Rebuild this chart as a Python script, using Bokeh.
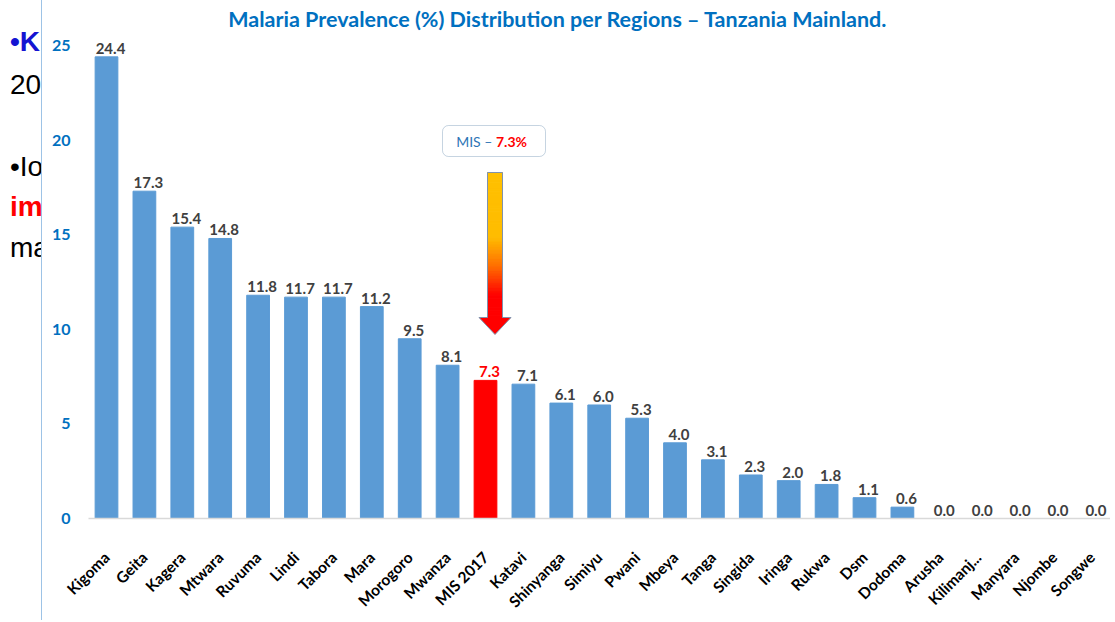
import math
from bokeh.plotting import figure
from bokeh.models import Range1d, FixedTicker, ColumnDataSource, Label, BoxAnnotation, Div
from bokeh.layouts import row
from bokeh.core.properties import value
from bokeh.embed import file_html
from bokeh.resources import INLINE

# ---------------- data ----------------
regions = ["Kigoma", "Geita", "Kagera", "Mtwara", "Ruvuma", "Lindi", "Tabora", "Mara",
           "Morogoro", "Mwanza", "MIS 2017", "Katavi", "Shinyanga", "Simiyu", "Pwani",
           "Mbeya", "Tanga", "Singida", "Iringa", "Rukwa", "Dsm", "Dodoma", "Arusha",
           "Kilimanj...", "Manyara", "Njombe", "Songwe"]
prevalence = [24.4, 17.3, 15.4, 14.8, 11.8, 11.7, 11.7, 11.2, 9.5, 8.1, 7.3, 7.1, 6.1,
              6.0, 5.3, 4.0, 3.1, 2.3, 2.0, 1.8, 1.1, 0.6, 0.0, 0.0, 0.0, 0.0, 0.0]
highlight = "MIS 2017"
y_ticks = [0, 5, 10, 15, 20, 25]
title_text = "Malaria Prevalence (%) Distribution per Regions \u2013 Tanzania  Mainland."
callout_left = "MIS \u2013 "
callout_right = "7.3%"
slide_lines = ["\u2022K", "20", "\u2022Io", "im", "ma"]

# ---------------- layout constants ----------------
PX_X = 37.9      # pixels per category
PX_Y = 18.92     # pixels per unit
FRAME_W = 1022
FRAME_H = 518
X0 = -0.475

BLUE = "#5b9bd5"
RED = "#ff0000"
FONT = "Lato"

n = len(regions)
idx = list(range(n))
colors = [RED if r == highlight else BLUE for r in regions]
lab_colors = [RED if r == highlight else "#404040" for r in regions]
src = ColumnDataSource(dict(x=idx, y=prevalence, c=colors, lc=lab_colors,
                            t=["%.1f" % v for v in prevalence]))

p = figure(width=1068, height=620,
           x_range=Range1d(X0, X0 + FRAME_W / PX_X),
           y_range=Range1d(0, FRAME_H / PX_Y),
           output_backend="svg", toolbar_location=None,
           min_border_left=46, min_border_right=0, min_border_top=0, min_border_bottom=102)
p.title = None
p.outline_line_color = None
p.grid.visible = False
p.background_fill_color = "white"

p.vbar(x="x", top="y", width=0.6, color="c", source=src)
p.text(x="x", y="y", text="t", source=src, text_color="lc",
       text_font=value(FONT), text_font_style="bold", text_font_size="15px",
       text_align="center", text_baseline="bottom", x_offset=4, y_offset=-3)

# axes
p.xaxis.ticker = FixedTicker(ticks=idx)
p.xaxis.major_label_overrides = {i: r for i, r in enumerate(regions)}
p.xaxis.major_label_orientation = math.pi / 4
p.xaxis.major_tick_line_color = None
p.xaxis.minor_tick_line_color = None
p.xaxis.axis_line_color = "#d9d9d9"
p.xaxis.axis_line_width = 1.5
p.xaxis.major_label_text_font = FONT
p.xaxis.major_label_text_font_style = "bold"
p.xaxis.major_label_text_font_size = "15.5px"
p.xaxis.major_label_text_color = "black"
p.xaxis.major_label_standoff = 30

p.yaxis.ticker = FixedTicker(ticks=y_ticks)
p.yaxis.axis_line_color = None
p.yaxis.major_tick_line_color = None
p.yaxis.minor_tick_line_color = None
p.yaxis.major_label_text_font = FONT
p.yaxis.major_label_text_font_style = "bold"
p.yaxis.major_label_text_font_size = "16px"
p.yaxis.major_label_text_color = "#0070c0"
p.yaxis.major_label_standoff = 12

def dx(px):
    return px / PX_X

def dy(py):
    return py / PX_Y

top_y = FRAME_H / PX_Y

# title
p.add_layout(Label(x=X0 + dx(560 - 88), y=top_y - dy(18), text=title_text,
                   text_font=FONT, text_font_style="bold", text_font_size="21.5px",
                   text_color="#0070c0", text_align="center", text_baseline="middle"))

# callout box
mi = regions.index(highlight)
cx = mi + dx(8.5)
p.add_layout(BoxAnnotation(left=cx - dx(51.5), right=cx + dx(51.5),
                           top=top_y - dy(125), bottom=top_y - dy(156),
                           fill_color="white", fill_alpha=1.0, line_color="#41719c",
                           line_width=1, border_radius=6))
split = mi + dx(10.5)
ly = top_y - dy(140.5)
p.add_layout(Label(x=split, y=ly, text=callout_left, text_font=FONT,
                   text_font_size="14px", text_color="#2e75b6",
                   text_align="right", text_baseline="middle"))
p.add_layout(Label(x=split, y=ly, text=callout_right, text_font=FONT,
                   text_font_style="bold", text_font_size="14px", text_color=RED,
                   text_align="left", text_baseline="middle"))

# gradient arrow
ax = mi + dx(9.5)
shaft_hw = dx(7.5)
head_hw = dx(16)
s_top, s_bot, tip = top_y - dy(172), top_y - dy(317), top_y - dy(334)

def grad(t):
    stops = [(0.0, (255, 192, 0)), (0.45, (255, 188, 0)), (0.65, (255, 110, 0)),
             (0.85, (255, 0, 0)), (1.0, (255, 0, 0))]
    for (t0, c0), (t1, c1) in zip(stops[:-1], stops[1:]):
        if t <= t1:
            f = (t - t0) / (t1 - t0) if t1 > t0 else 0
            return "#%02x%02x%02x" % tuple(int(round(a + (b - a) * f)) for a, b in zip(c0, c1))
    return "#ff0000"

N = 60
tops, bots, cols = [], [], []
for k in range(N):
    tops.append(s_top + (s_bot - s_top) * k / N)
    bots.append(s_top + (s_bot - s_top) * (k + 1) / N)
    cols.append(grad((k + 0.5) / N))
p.quad(left=ax - shaft_hw, right=ax + shaft_hw, top=tops, bottom=bots,
       fill_color=cols, line_color=cols, line_width=1)
p.patch(x=[ax - head_hw, ax + head_hw, ax], y=[s_bot, s_bot, tip], fill_color=RED, line_color=None)
p.patch(x=[ax - shaft_hw, ax + shaft_hw, ax + shaft_hw, ax + head_hw, ax, ax - head_hw, ax - shaft_hw],
        y=[s_top, s_top, s_bot, s_bot, tip, s_bot, s_bot],
        fill_color=None, line_color="#7f92ad", line_width=1)

# ---------------- left slide fragment (clipped text + divider line) ----------------
base_y = [52, 95, 177, 217, 258]
line_cols = ["#1414d2", "black", "black", RED, "black"]
line_weights = ["bold", "normal", "normal", "bold", "normal"]
FS = 28
spans = "".join(
    '<div style="position:absolute;left:10px;top:%dpx;white-space:nowrap;color:%s;'
    'font-weight:%s;">%s</div>' % (round(b - 0.85 * FS), c, w, t)
    for t, b, c, w in zip(slide_lines, base_y, line_cols, line_weights))
html = ('<div style="position:relative;box-sizing:border-box;width:42px;height:620px;'
        'overflow:hidden;border-right:1.5px solid #9dc3e6;margin:0;padding:0;'
        "font-family:'Liberation Sans',Arial,sans-serif;font-size:%dpx;line-height:%dpx;\">%s</div>"
        % (FS, FS, spans))
left = Div(text=html, width=42, height=620, margin=0)

layout = row(left, p)
open("out.html", "w").write(file_html(layout, INLINE))
